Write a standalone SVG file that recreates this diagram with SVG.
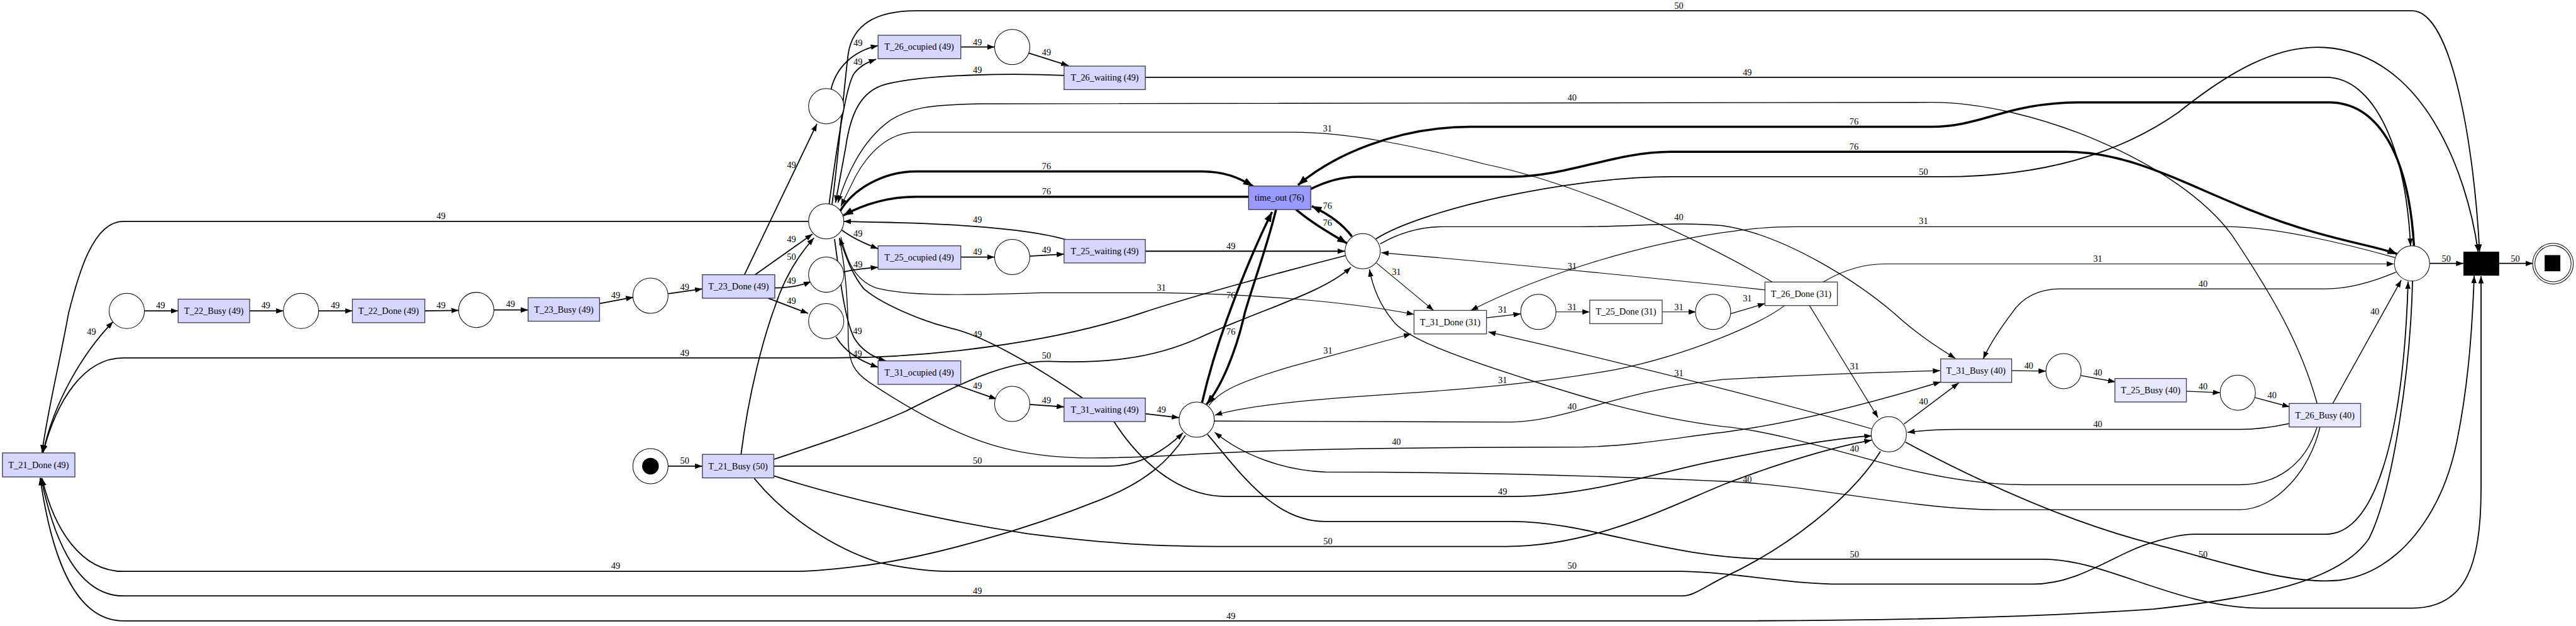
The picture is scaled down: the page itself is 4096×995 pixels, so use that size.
<svg xmlns="http://www.w3.org/2000/svg" width="4096" height="995" viewBox="0 0 4096 995">
<defs>
<style>
.n rect{stroke:#3c3c4c;stroke-width:1.7}
.b{fill:#d6d6ff}.l{fill:#e8e8ff}.w{fill:#ffffff}.t{fill:#9999ff}
.p{fill:#fff;stroke:#000;stroke-width:1.3}
text{font-family:"Liberation Serif","Times New Roman",serif;font-size:18.5px;fill:#000;text-anchor:middle}
.e path{fill:none;stroke:#000;marker-end:url(#m)}
.e .c31{stroke-width:1.5}.e .c40{stroke-width:1.8}.e .c49{stroke-width:2.3}
.e .c76{stroke-width:4.5;marker-end:url(#mt)}
</style>
<marker id="m" viewBox="0 0 15 11" refX="15" refY="5.5" markerWidth="15" markerHeight="11" markerUnits="userSpaceOnUse" orient="auto" preserveAspectRatio="none"><path d="M0,0 L15,5.5 L0,11 z" fill="#000"/></marker>
<marker id="mt" viewBox="0 0 20 15" refX="20" refY="7.5" markerWidth="20" markerHeight="15" markerUnits="userSpaceOnUse" orient="auto" preserveAspectRatio="none"><path d="M0,0 L20,7.5 L0,15 z" fill="#000"/></marker>
</defs>
<rect width="4096" height="995" fill="#fff"/>
<g transform="scale(0.77826)">
<g id="connectors" class="e">
<path class="c49" d="M1365,952 L1435,952"/><text x="1399" y="947">50</text>
<path class="c49" d="M88,925 C110,820 170,720 231,657"/><text x="187" y="683">49</text>
<path class="c49" d="M295,635 L364,635"/><text x="328" y="630">49</text>
<path class="c49" d="M510,635 L579,635"/><text x="543" y="630">49</text>
<path class="c49" d="M651,635 L720,635"/><text x="685" y="630">49</text>
<path class="c49" d="M868,635 L937,634"/><text x="901" y="629">49</text>
<path class="c49" d="M1009,633 L1079,633"/><text x="1043" y="627">49</text>
<path class="c49" d="M1224,620 L1294,607"/><text x="1258" y="609">49</text>
<path class="c49" d="M1365,600 L1435,590"/><text x="1399" y="592">49</text>
<path class="c49" d="M1521,561 L1669,253"/><text x="1617" y="343">49</text>
<path class="c49" d="M1543,561 L1660,478"/><text x="1617" y="495">49</text>
<path class="c49" d="M1583,588 C1610,588 1635,584 1657,575"/><text x="1617" y="579">49</text>
<path class="c49" d="M1569,609 L1651,640"/><text x="1617" y="621">49</text>
<path class="c49" d="M1514,928 C1530,800 1560,690 1582,630 C1598,580 1625,528 1663,486"/><text x="1617" y="531">50</text>
<path class="c49" d="M1698,182 C1708,140 1740,105 1794,93"/><text x="1753" y="94">49</text>
<path class="c49" d="M1694,416 C1710,300 1728,175 1745,150 C1757,135 1770,128 1790,121"/><text x="1753" y="133">49</text>
<path class="c49" d="M1963,96 L2032,96"/><text x="1997" y="92">49</text>
<path class="c49" d="M2101,108 L2183,134"/><text x="2138" y="113">49</text>
<path class="c49" d="M2174,154 C2080,150 1900,150 1810,172 C1760,185 1738,230 1728,300 L1707,414"/><text x="1997" y="149">49</text>
<path class="c49" d="M2340,158 L4752,158 C4850,158 4915,300 4925,502"/><text x="3570" y="154">49</text>
<path class="c49" d="M1700,417 C1712,330 1722,200 1733,110 C1742,50 1790,22 1872,22 L4928,22 C5010,22 5055,300 5066,514"/><text x="3430" y="18">50</text>
<path class="c40" d="M4734,824 C4700,700 4640,600 4560,480 C4450,330 4150,209 3946,209 L2000,212 C1900,214 1860,220 1820,245 C1770,280 1735,340 1712,414"/><text x="3212" y="205">40</text>
<path class="c31" d="M3621,576 C3500,505 3250,380 3033,335 C2900,300 2760,270 2640,270 L1872,270 C1810,270 1770,320 1748,360 L1718,421"/><text x="2712" y="269">31</text>
<path class="c76" d="M1716,432 C1740,390 1800,350 1872,350 L2456,350 C2500,350 2530,362 2560,380"/><text x="2138" y="346">76</text>
<path class="c76" d="M2551,402 L1872,402 C1810,402 1760,420 1723,440"/><text x="2138" y="397">76</text>
<path class="c49" d="M1720,470 C1740,485 1760,495 1794,508"/><text x="1753" y="483">49</text>
<path class="c49" d="M1722,556 C1745,550 1765,548 1794,546"/><text x="1753" y="546">49</text>
<path class="c49" d="M1963,525 L2032,525"/><text x="1997" y="521">49</text>
<path class="c49" d="M2104,523 L2174,519"/><text x="2138" y="517">49</text>
<path class="c49" d="M2180,490 C2100,466 1950,456 1760,453 L1724,452"/><text x="1997" y="455">49</text>
<path class="c49" d="M2340,513 L2748,513"/><text x="2515" y="509">49</text>
<path class="c31" d="M1718,484 C1730,530 1745,572 1790,588 C1850,604 1950,604 2125,598 L2373,598 C2550,600 2750,615 2889,642"/><text x="2373" y="594">31</text>
<path class="c49" d="M2212,813 C2120,750 2010,685 1945,671 C1880,655 1800,620 1765,590 C1740,560 1727,520 1715,486"/><text x="1997" y="689">49</text>
<path class="c49" d="M1705,488 C1715,560 1725,650 1745,690 C1760,715 1785,730 1810,737"/><text x="1752" y="682">49</text>
<path class="c49" d="M1708,688 C1725,715 1750,735 1794,750"/><text x="1752" y="728">49</text>
<path class="c49" d="M1950,785 L2036,815"/><text x="1997" y="794">49</text>
<path class="c49" d="M2104,826 L2174,831"/><text x="2138" y="824">49</text>
<path class="c49" d="M2340,845 L2409,853"/><text x="2373" y="843">49</text>
<path class="c40" d="M1715,487 C1728,550 1733,620 1733,699 C1735,740 1745,760 1775,780 C1850,830 1950,890 2050,915 C2150,940 2237,938 2400,930 C2600,918 2800,914 3235,913 C3350,910 3450,890 3520,883 C3650,866 3800,830 3965,780"/><text x="2853" y="909">40</text>
<path class="c76" d="M2607,428 C2590,500 2560,580 2543,640 C2525,720 2495,790 2465,826"/><text x="2515" y="683">76</text>
<path class="c76" d="M2456,822 C2475,740 2500,670 2512,638 C2540,560 2575,480 2599,433"/><text x="2515" y="609">76</text>
<path class="c49" d="M1581,952 L2265,952 C2330,952 2380,920 2417,884"/><text x="1997" y="947">50</text>
<path class="c49" d="M2422,889 C2390,940 2340,985 2250,1020 C2100,1080 1900,1140 1750,1157 C1700,1163 1660,1167 1626,1167 L252,1167 C165,1167 110,1080 86,977"/><text x="1258" y="1162">49</text>
<path class="c31" d="M2470,828 C2490,800 2530,780 2640,748 L2883,682"/><text x="2713" y="722">31</text>
<path class="c31" d="M3646,624 C3600,660 3450,725 3300,755 C3150,782 3000,795 2800,808 C2650,818 2540,830 2482,848"/><text x="3070" y="783">31</text>
<path class="c40" d="M2481,860 L3089,862 C3200,860 3300,800 3520,775 C3700,765 3850,760 3964,757"/><text x="3212" y="837">40</text>
<path class="c40" d="M4740,872 C4720,960 4650,1041 4576,1041 L4081,1041 C3900,1040 3700,990 3520,983 C3300,973 3000,964 2707,964 C2620,960 2540,930 2482,883"/><text x="3570" y="985">40</text>
<path class="c49" d="M2467,887 C2530,960 2600,1065 2707,1065 L3089,1065 C3250,1065 3400,1142 3632,1142 L4177,1142 C4300,1142 4450,1242 4620,1242 L4928,1242 C5040,1242 5069,1150 5069,1000 L5069,564"/><text x="3789" y="1139">50</text>
<path class="c76" d="M2648,428 C2680,455 2720,478 2752,497"/><text x="2712" y="461">76</text>
<path class="c76" d="M2762,483 C2745,460 2720,440 2680,421"/><text x="2712" y="427">76</text>
<path class="c49" d="M1581,938 C1650,915 1760,880 1850,840 C1950,790 2050,737 2142,738 C2250,742 2350,735 2450,690 C2580,630 2700,600 2760,546"/><text x="2138" y="733">50</text>
<path class="c49" d="M2749,522 C2600,560 2420,610 2330,640 C2150,700 1900,731 1699,731 L252,731 C170,731 115,820 88,924"/><text x="1399" y="727">49</text>
<path class="c31" d="M2812,537 L2929,634"/><text x="2853" y="561">31</text>
<path class="c40" d="M2820,498 C2860,475 2900,463 2949,463 L3229,463 C3350,463 3420,452 3520,461 C3650,480 3800,580 3870,640 C3920,685 3960,710 3995,732"/><text x="3430" y="450">40</text>
<path class="c31" d="M3606,592 C3450,575 3100,540 2822,516"/><text x="3212" y="550">31</text>
<path class="c40" d="M4734,872 C4710,950 4650,990 4576,990 L4137,990 C4050,990 3960,975 3870,952 C3750,920 3620,880 3520,871 C3350,850 3200,800 3100,768 C2950,720 2880,690 2850,660 C2820,625 2805,590 2798,550"/><text x="3789" y="922">40</text>
<path class="c49" d="M2811,488 C2900,430 3200,361 3414,361 L3969,361 C4200,361 4350,300 4450,230 C4550,150 4650,90 4750,97 C4950,110 5040,350 5063,514"/><text x="3930" y="357">50</text>
<path class="c76" d="M2678,386 C2710,370 2740,361 2775,361 L3089,361 C3200,361 3300,310 3414,310 L4221,310 C4350,310 4450,370 4600,430 C4750,490 4850,500 4898,519"/><text x="3788" y="306">76</text>
<path class="c76" d="M4932,502 C4920,300 4850,209 4758,209 L4250,209 C4100,209 4050,259 3946,259 L3005,259 C2850,259 2720,320 2652,378"/><text x="3788" y="255">76</text>
<path class="c49" d="M1541,977 C1600,1050 1700,1120 1800,1150 C1880,1167 1920,1167 1973,1167 L3437,1167 C3550,1169 3650,1193 3761,1193 L4154,1193 C4250,1193 4320,1130 4400,1107 C4440,1095 4465,1091 4482,1091 L4752,1091 C4850,1091 4910,900 4920,575"/><text x="3212" y="1162">50</text>
<path class="c49" d="M4929,574 C4925,750 4890,1000 4840,1100 C4780,1190 4600,1222 4400,1244 C4100,1264 3800,1268 3520,1268 L252,1268 C140,1268 100,1100 82,976"/><text x="2515" y="1264">49</text>
<path class="c49" d="M4964,538 L5033,538"/><text x="4998" y="534">50</text>
<path class="c49" d="M5106,538 L5175,538"/><text x="5139" y="534">50</text>
<path class="c31" d="M4893,526 C4800,500 4650,463 4554,463 L3671,463 C3600,463 3560,470 3520,475 C3350,500 3150,560 3005,634"/><text x="3930" y="458">31</text>
<path class="c40" d="M4895,556 C4850,575 4800,590 4752,590 L4210,590 C4160,590 4130,610 4110,640 C4080,680 4062,710 4052,733"/><text x="4501" y="586">40</text>
<path class="c40" d="M4766,824 L4906,572"/><text x="4852" y="642">40</text>
<path class="c31" d="M3725,576 C3760,555 3800,539 3851,539 L4891,539"/><text x="4286" y="535">31</text>
<path class="c49" d="M2276,861 C2320,930 2400,1014 2506,1014 L3089,1014 C3250,1014 3400,960 3520,938 C3650,912 3750,895 3824,890"/><text x="3070" y="1010">49</text>
<path class="c49" d="M1581,972 C1700,1010 1900,1060 2100,1090 C2300,1115 2400,1116 2490,1116 L3078,1116 C3250,1116 3400,1040 3520,990 C3650,940 3760,910 3824,899"/><text x="2713" y="1111">50</text>
<path class="c31" d="M3697,624 L3837,853"/><text x="3789" y="754">31</text>
<path class="c40" d="M4677,865 C4640,873 4610,877 4576,877 L4000,877 C3950,877 3920,880 3897,883"/><text x="4286" y="873">40</text>
<path class="c40" d="M3890,866 L4002,782"/><text x="3930" y="826">40</text>
<path class="c31" d="M3825,876 C3700,840 3400,760 3041,678"/><text x="3430" y="768">31</text>
<path class="c49" d="M3842,922 C3780,1020 3650,1120 3520,1180 C3480,1200 3460,1217 3437,1217 L252,1217 C150,1217 105,1080 84,976"/><text x="1997" y="1213">49</text>
<path class="c49" d="M3893,903 C4000,960 4200,1060 4400,1111 C4550,1150 4680,1195 4780,1185 C4900,1170 4990,1050 5020,900 C5040,800 5050,700 5055,563"/><text x="4501" y="1138">50</text>
<path class="c31" d="M3037,649 L3107,641"/><text x="3070" y="639">31</text>
<path class="c31" d="M3179,637 L3248,637"/><text x="3212" y="633">31</text>
<path class="c31" d="M3396,637 L3465,637"/><text x="3430" y="633">31</text>
<path class="c31" d="M3535,641 L3606,620"/><text x="3570" y="615">31</text>
<path class="c40" d="M4110,757 L4180,758"/><text x="4145" y="753">40</text>
<path class="c40" d="M4251,767 L4322,780"/><text x="4286" y="767">40</text>
<path class="c40" d="M4467,799 L4536,802"/><text x="4501" y="795">40</text>
<path class="c40" d="M4607,812 L4678,831"/><text x="4642" y="813">40</text>
<path class="c49" d="M1652,452 L252,452 C190,452 160,560 140,640 C122,740 95,850 86,924"/><text x="901" y="447">49</text>
</g>
<g id="T21Done" class="n"><rect class="b" x="5" y="925" width="148" height="49"/><text x="79" y="956">T_21_Done (49)</text></g>
<g id="pA"><circle class="p" cx="259" cy="635" r="36"/></g>
<g id="T22Busy" class="n"><rect class="b" x="364" y="611" width="146" height="48"/><text x="437" y="641">T_22_Busy (49)</text></g>
<g id="pB"><circle class="p" cx="615" cy="635" r="36"/></g>
<g id="T22Done" class="n"><rect class="b" x="720" y="611" width="148" height="48"/><text x="794" y="641">T_22_Done (49)</text></g>
<g id="pC"><circle class="p" cx="973" cy="633" r="36"/></g>
<g id="T23Busy" class="n"><rect class="b" x="1079" y="608" width="146" height="48"/><text x="1152" y="638">T_23_Busy (49)</text></g>
<g id="pD"><circle class="p" cx="1329" cy="604" r="36"/></g>
<g id="T23Done" class="n"><rect class="b" x="1435" y="561" width="148" height="48"/><text x="1509" y="591">T_23_Done (49)</text></g>
<g id="pE"><circle class="p" cx="1688" cy="217" r="36"/></g>
<g id="pHub"><circle class="p" cx="1688" cy="452" r="36"/></g>
<g id="pF"><circle class="p" cx="1688" cy="561" r="36"/></g>
<g id="pG"><circle class="p" cx="1688" cy="656" r="36"/></g>
<g id="T26ocu" class="n"><rect class="b" x="1794" y="72" width="169" height="48"/><text x="1878" y="102">T_26_ocupied (49)</text></g>
<g id="pH"><circle class="p" cx="2068" cy="96" r="36"/></g>
<g id="T26wait" class="n"><rect class="b" x="2174" y="135" width="166" height="48"/><text x="2257" y="165">T_26_waiting (49)</text></g>
<g id="timeout" class="n"><rect class="t" x="2551" y="380" width="127" height="48"/><text x="2614" y="410">time_out (76)</text></g>
<g id="T25ocu" class="n"><rect class="b" x="1794" y="502" width="169" height="48"/><text x="1878" y="532">T_25_ocupied (49)</text></g>
<g id="pI"><circle class="p" cx="2068" cy="525" r="36"/></g>
<g id="T25wait" class="n"><rect class="b" x="2174" y="489" width="166" height="48"/><text x="2257" y="519">T_25_waiting (49)</text></g>
<g id="pJ"><circle class="p" cx="2784" cy="513" r="36"/></g>
<g id="T31Done" class="n"><rect class="w" x="2889" y="634" width="148" height="48"/><text x="2963" y="664">T_31_Done (31)</text></g>
<g id="pK"><circle class="p" cx="3143" cy="637" r="36"/></g>
<g id="T25Done" class="n"><rect class="w" x="3248" y="613" width="148" height="48"/><text x="3322" y="643">T_25_Done (31)</text></g>
<g id="pL"><circle class="p" cx="3500" cy="637" r="36"/></g>
<g id="T26Done" class="n"><rect class="w" x="3606" y="576" width="148" height="48"/><text x="3680" y="606">T_26_Done (31)</text></g>
<g id="pM"><circle class="p" cx="4928" cy="538" r="36"/></g>
<g id="final"><rect x="5033" y="514" width="73" height="49" fill="#000"/></g>
<g id="end"><circle class="p" cx="5216" cy="538.5" r="41.5"/><circle class="p" cx="5216" cy="538.5" r="37"/><rect x="5199" y="521" width="32" height="33" fill="#000"/></g>
<g id="start"><circle class="p" cx="1329" cy="952" r="36"/><circle cx="1329" cy="952" r="17" fill="#000"/></g>
<g id="T21Busy" class="n"><rect class="b" x="1435" y="928" width="146" height="48"/><text x="1508" y="958">T_21_Busy (50)</text></g>
<g id="T31ocu" class="n"><rect class="b" x="1794" y="737" width="169" height="48"/><text x="1878" y="767">T_31_ocupied (49)</text></g>
<g id="pN"><circle class="p" cx="2068" cy="825" r="36"/></g>
<g id="T31wait" class="n"><rect class="b" x="2174" y="813" width="166" height="48"/><text x="2257" y="843">T_31_waiting (49)</text></g>
<g id="pO"><circle class="p" cx="2445" cy="857" r="36"/></g>
<g id="T31Busy" class="n"><rect class="l" x="3965" y="733" width="145" height="48"/><text x="4037" y="763">T_31_Busy (40)</text></g>
<g id="pP"><circle class="p" cx="4216" cy="758" r="36"/></g>
<g id="pQ"><circle class="p" cx="3859" cy="887" r="36"/></g>
<g id="T25Busy" class="n"><rect class="l" x="4321" y="773" width="146" height="48"/><text x="4394" y="803">T_25_Busy (40)</text></g>
<g id="pR"><circle class="p" cx="4572" cy="802" r="36"/></g>
<g id="T26Busy" class="n"><rect class="l" x="4677" y="824" width="146" height="48"/><text x="4750" y="854">T_26_Busy (40)</text></g>
</g>
</svg>
